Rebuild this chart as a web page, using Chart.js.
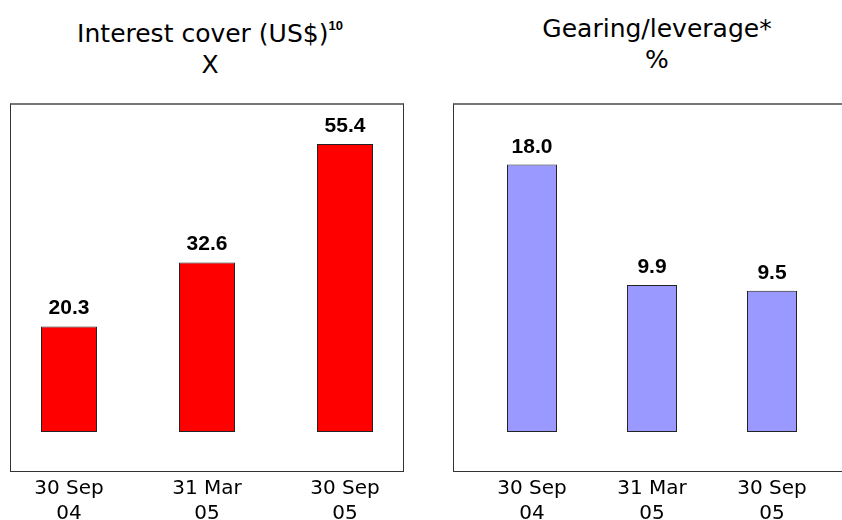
<!DOCTYPE html>
<html>
<head>
<meta charset="utf-8">
<script src="https://cdn.jsdelivr.net/npm/chart.js@4.4.1/dist/chart.umd.min.js"></script>
<style>
  body { margin: 0; width: 842px; height: 520px; overflow: hidden; background: #fff; position: relative; font-family: 'DejaVu Sans', sans-serif; }
  .box { position: absolute; top: 103px; height: 366px; border: 1px solid #333; border-top: 2px solid #777; }
  .title { position: absolute; top: 13px; text-align: center; font-size: 25px; line-height: 31px; color: #000; }
  .title sup { font-family: 'Liberation Sans', Arial, sans-serif; font-weight: bold; font-size: 13px; position: relative; top: -3px; }
  .chart { position: absolute; top: 100px; height: 420px; }
</style>
</head>
<body>
<div class="box" style="left:10px; width:392px;"></div>
<div class="box" style="left:453px; width:400px;"></div>
<div class="title" style="left:10px; width:400px;">Interest cover (US$)<sup>10</sup><br>X</div>
<div class="title" style="left:457px; width:400px;">Gearing/leverage*<br>%</div>
<div class="chart" style="left:0px; width:414px;"><canvas id="coverChart"></canvas></div>
<div class="chart" style="left:472px; width:360px;"><canvas id="gearingChart"></canvas></div>
<script>
// Periods (x axis)
const periods = [['30 Sep', '04'], ['31 Mar', '05'], ['30 Sep', '05']];
// Interest cover, times
const interestCover = [20.3, 32.6, 55.4];
// Gearing/leverage, %
const gearing = [18.0, 9.9, 9.5];

Chart.defaults.font.family = "'DejaVu Sans', sans-serif";
Chart.defaults.color = '#000';

// value labels above the bars
const valueLabels = {
    id: 'valueLabels',
    afterDatasetsDraw(chart) {
        const ctx = chart.ctx;
        const meta = chart.getDatasetMeta(0);
        const values = chart.data.datasets[0].data;
        ctx.save();
        ctx.font = "bold 21px 'Liberation Sans', Arial, sans-serif";
        ctx.fillStyle = '#000';
        ctx.textAlign = 'center';
        ctx.textBaseline = 'alphabetic';
        meta.data.forEach((bar, i) => {
            ctx.fillText(values[i].toFixed(1), bar.x, bar.y - 12);
        });
        ctx.restore();
    }
};

function makeChart(id, values, color, max, barPct) {
    return new Chart(document.getElementById(id), {
        type: 'bar',
        data: {
            labels: periods,
            datasets: [{
                data: values,
                backgroundColor: color,
                borderColor: '#222',
                borderWidth: 1,
                borderSkipped: false,
                barPercentage: barPct,
                categoryPercentage: 1
            }]
        },
        options: {
            responsive: true,
            maintainAspectRatio: false,
            animation: false,
            layout: { padding: { top: 20, left: 0, right: 0, bottom: 0 } },
            plugins: {
                legend: { display: false },
                tooltip: { enabled: false }
            },
            scales: {
                y: {
                    display: false,
                    min: 0,
                    max: max
                },
                x: {
                    // ticks hidden, tickLength only pushes the labels down
                    grid: { display: false, drawTicks: true, tickLength: 42 },
                    border: { display: false },
                    ticks: {
                        padding: 2,
                        font: { size: 20, lineHeight: 1.25 },
                        maxRotation: 0,
                        autoSkip: false
                    },
                    afterFit(scale) {
                        scale.height = 88;
                    }
                }
            }
        },
        plugins: [valueLabels]
    });
}

makeChart('coverChart', interestCover, '#ff0000', 60, 0.406);
makeChart('gearingChart', gearing, '#9999ff', 21, 0.417);
</script>
</body>
</html>
